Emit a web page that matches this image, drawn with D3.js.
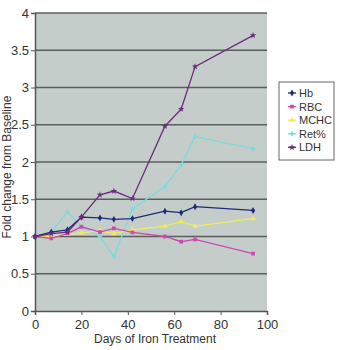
<!DOCTYPE html>
<html><head><meta charset="utf-8">
<script src="https://cdn.jsdelivr.net/npm/d3@7"></script>
<style>body{margin:0;background:#fff}svg{display:block}</style>
</head><body>
<script>
const days = [0, 7, 14, 20, 28, 34, 42, 56, 63, 69, 94];
const hb   = [1.0, 1.06, 1.09, 1.26, 1.25, 1.23, 1.24, 1.34, 1.32, 1.40, 1.35];
const rbc  = [1.0, 0.975, 1.04, 1.13, 1.06, 1.11, 1.055, 1.0, 0.93, 0.96, 0.77];
const mchc = [1.0, 1.0, 1.03, 1.05, 1.08, 1.04, 1.09, 1.14, 1.20, 1.14, 1.24];
const ret  = [1.0, 1.06, 1.33, 1.13, 1.0, 0.73, 1.37, 1.67, 1.96, 2.34, 2.18];
const ldh  = [1.0, 1.04, 1.06, 1.26, 1.56, 1.61, 1.51, 2.48, 2.71, 3.28, 3.70];
const seriesNames = ["Hb", "RBC", "MCHC", "Ret%", "LDH"];
const seriesColors = ["#1c2a7c", "#cc4aae", "#eeee5a", "#78dcdc", "#6e2a7e"];
const xTicks = [0, 20, 40, 60, 80, 100];
const yTicks = [0, 0.5, 1, 1.5, 2, 2.5, 3, 3.5, 4];
const allSeries = [hb, rbc, mchc, ret, ldh];

const W = 340, H = 350;
const svg = d3.select("body").append("svg").attr("width", W).attr("height", H);
const m = {l: 35, r: 72, t: 13, b: 39};
const x = d3.scaleLinear().domain([0, 100]).range([m.l, 267]);
const y = d3.scaleLinear().domain([0, 4]).range([311, m.t]);

svg.append("rect").attr("x", x(0)).attr("y", y(4)).attr("width", x(100) - x(0)).attr("height", y(0) - y(4)).attr("fill", "#c5cdca");

svg.append("g").selectAll("line").data(yTicks.filter(d => d > 0)).join("line")
  .attr("x1", x(0)).attr("x2", x(100)).attr("y1", d => y(d)).attr("y2", d => y(d))
  .attr("stroke", "#5a5e5c").attr("stroke-width", 1.6);

const font = "'Liberation Sans', Arial, sans-serif";
const yAxis = svg.append("g").attr("transform", `translate(${x(0)},0)`)
  .call(d3.axisLeft(y).tickValues(yTicks).tickSize(4).tickPadding(2).tickFormat(d3.format("")));
const xAxis = svg.append("g").attr("transform", `translate(0,${y(0)})`)
  .call(d3.axisBottom(x).tickValues(xTicks).tickSize(4).tickPadding(5));
[yAxis, xAxis].forEach(a => {
  a.select(".domain").attr("stroke", "#555").attr("stroke-width", 1.5);
  a.selectAll(".tick line").attr("stroke", "#555");
  a.selectAll("text").attr("font-family", font).attr("font-size", 13).attr("fill", "#333");
});

const line = d3.line().x((d, i) => x(days[i])).y(d => y(d));
function marker(i) {
  const sym = [d3.symbolDiamond, d3.symbolSquare, d3.symbolTriangle, d3.symbolCross, d3.symbolStar][i];
  return d3.symbol().type(sym).size(i === 3 ? 12 : 14)();
}
const order = [3, 2, 1, 0, 4];
order.forEach(si => {
  const vals = allSeries[si];
  const g = svg.append("g");
  g.append("path").datum(vals).attr("d", line).attr("fill", "none")
    .attr("stroke", seriesColors[si]).attr("stroke-width", 1.3);
  g.selectAll("path.m").data(vals).join("path").attr("class", "m")
    .attr("transform", (d, i) => `translate(${x(days[i])},${y(d)})`)
    .attr("d", marker(si)).attr("fill", seriesColors[si]);
});

const lg = svg.append("g");
lg.append("rect").attr("x", 279).attr("y", 82).attr("width", 55).attr("height", 78)
  .attr("fill", "#fff").attr("stroke", "#666").attr("stroke-width", 1);
seriesNames.forEach((n, i) => {
  const yy = 93 + i * 13.6;
  lg.append("line").attr("x1", 288).attr("x2", 296).attr("y1", yy).attr("y2", yy)
    .attr("stroke", seriesColors[i]).attr("stroke-width", 1.3);
  lg.append("path").attr("transform", `translate(292,${yy})`).attr("d", marker(i)).attr("fill", seriesColors[i]);
  lg.append("text").attr("x", 299).attr("y", yy + 4).text(n)
    .attr("font-family", font).attr("font-size", 11).attr("fill", "#333");
});

svg.append("text").attr("x", 155).attr("y", 343).attr("text-anchor", "middle")
  .attr("font-family", font).attr("font-size", 12).attr("fill", "#333").text("Days of Iron Treatment");
svg.append("text").attr("transform", "translate(11,167) rotate(-90)").attr("text-anchor", "middle")
  .attr("font-family", font).attr("font-size", 12).attr("fill", "#333").text("Fold change from Baseline");
</script>
</body></html>
